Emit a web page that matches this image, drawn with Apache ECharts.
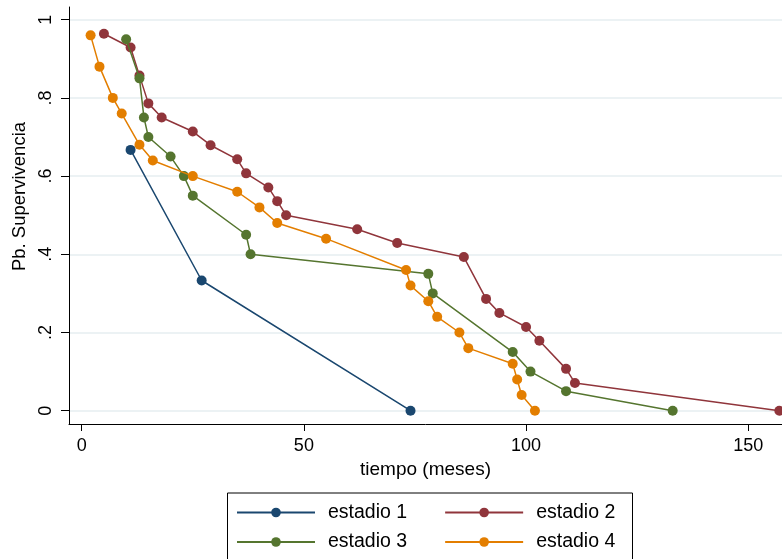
<!DOCTYPE html>
<html>
<head>
<meta charset="utf-8">
<script src="https://cdn.jsdelivr.net/npm/echarts@6/dist/echarts.min.js"></script>
<style>html,body{margin:0;padding:0;background:#fff}#c{width:782px;height:559px}</style>
</head>
<body>
<div id="c"></div>
<script>
// ---- data ----
const seriesNames = ['estadio 1', 'estadio 2', 'estadio 3', 'estadio 4'];
const x1 = [11, 27, 74];
const y1 = [0.667, 0.333, 0];
const x2 = [5, 11, 13, 15, 18, 25, 29, 35, 37, 42, 44, 46, 62, 71, 86, 91, 94, 100, 103, 109, 111, 157];
const y2 = [0.964, 0.929, 0.857, 0.786, 0.75, 0.714, 0.679, 0.643, 0.607, 0.571, 0.536, 0.5, 0.464, 0.429, 0.393, 0.286, 0.25, 0.214, 0.179, 0.107, 0.071, 0];
const x3 = [10, 13, 14, 15, 20, 23, 25, 37, 38, 78, 79, 97, 101, 109, 133];
const y3 = [0.95, 0.85, 0.75, 0.70, 0.65, 0.60, 0.55, 0.45, 0.40, 0.35, 0.30, 0.15, 0.10, 0.05, 0];
const x4 = [2, 4, 7, 9, 13, 16, 25, 35, 40, 44, 55, 73, 74, 78, 80, 85, 87, 97, 98, 99, 102];
const y4 = [0.96, 0.88, 0.80, 0.76, 0.68, 0.64, 0.60, 0.56, 0.52, 0.48, 0.44, 0.36, 0.32, 0.28, 0.24, 0.20, 0.16, 0.12, 0.08, 0.04, 0];
const xTicks = [0, 50, 100, 150];
const xTickLabels = ['0', '50', '100', '150'];
const yTicks = [0, 0.2, 0.4, 0.6, 0.8, 1];
const yTickLabels = ['0', '.2', '.4', '.6', '.8', '1'];
const xTitle = 'tiempo (meses)';
const yTitle = 'Pb. Supervivencia';

// ---- styles ----
const colors = ['#1a476f', '#90353b', '#55752f', '#e37e00'];
const FONT = '"Liberation Sans", Arial, Helvetica, sans-serif';

const xs = [x1, x2, x3, x4];
const ys = [y1, y2, y3, y4];
const series = seriesNames.map((name, i) => ({
  name: name,
  type: 'line',
  data: xs[i].map((v, j) => [v, ys[i][j]]),
  symbol: 'circle',
  symbolSize: 10,
  showSymbol: true,
  lineStyle: { width: 1.5, color: colors[i] },
  itemStyle: { color: colors[i] },
  emphasis: { disabled: true },
  z: 2 + i
}));

const chart = echarts.init(document.getElementById('c'), null, { renderer: 'canvas' });
const legendCommon = {
  orient: 'horizontal',
  itemWidth: 78,
  itemHeight: 12,
  itemGap: 37,
  padding: 0,
  selectedMode: false,
  textStyle: { fontFamily: FONT, fontSize: 19.5, color: '#000', padding: [0, 0, 0, 8] }
};
chart.setOption({
  animation: false,
  backgroundColor: '#fff',
  color: colors,
  grid: { left: 69, top: 7, right: 0, bottom: 135, containLabel: false },
  xAxis: {
    type: 'value',
    min: -2.86,
    max: 157.6,
    name: xTitle,
    nameLocation: 'middle',
    nameGap: 32,
    nameTextStyle: { fontFamily: FONT, fontSize: 19, color: '#000' },
    axisLine: { show: true, onZero: false, lineStyle: { color: '#000', width: 1 } },
    axisTick: { show: true, length: 7, lineStyle: { color: '#000' }, customValues: xTicks },
    axisLabel: {
      customValues: xTicks,
      formatter: v => xTickLabels[xTicks.indexOf(v)],
      fontFamily: FONT, fontSize: 18, color: '#000', margin: 13
    },
    splitLine: { show: false }
  },
  yAxis: {
    type: 'value',
    min: -0.034,
    max: 1.0325,
    name: yTitle,
    nameLocation: 'middle',
    nameRotate: 90,
    nameGap: 39,
    nameTextStyle: { fontFamily: FONT, fontSize: 18.5, color: '#000', padding: [0, 0, 0, 38] },
    axisLine: { show: true, onZero: false, lineStyle: { color: '#000', width: 1 } },
    axisTick: { show: true, length: 8, lineStyle: { color: '#000' }, customValues: yTicks },
    axisLabel: {
      customValues: yTicks,
      rotate: 90,
      formatter: v => yTickLabels[yTicks.indexOf(v)],
      fontFamily: FONT, fontSize: 18, color: '#000', margin: 14
    },
    splitLine: { show: true, lineStyle: { color: '#e6eef0', width: 1.5 } }
  },
  legend: [
    Object.assign({}, legendCommon, { data: [seriesNames[0], seriesNames[1]], left: 236, top: 502.5 }),
    Object.assign({}, legendCommon, { data: [seriesNames[2], seriesNames[3]], left: 236, top: 532 })
  ],
  graphic: [{
    type: 'rect',
    shape: { x: 227.5, y: 493, width: 405, height: 90 },
    style: { fill: 'none', stroke: '#000', lineWidth: 1 },
    silent: true
  }],
  series: series
});
</script>
</body>
</html>
